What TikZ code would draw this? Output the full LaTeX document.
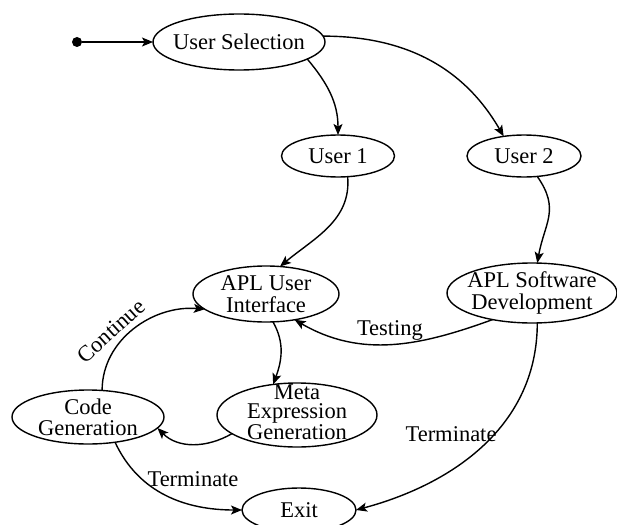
\documentclass[tikz,border=0pt]{standalone}
\usepackage{fontspec}
\setmainfont{Liberation Serif}
\usetikzlibrary{shapes.geometric,arrows.meta}
\begin{document}
\begin{tikzpicture}[x=1pt,y=-1pt,
  st/.style={draw, ellipse, line width=1.4pt, inner sep=0pt, outer sep=0pt},
  stxt/.style={font=\fontsize{22.5}{22}\selectfont, align=center, inner sep=0pt},
  arr/.style={line width=1.4pt, -{Stealth[length=11pt,width=9pt,inset=2.5pt]}},
  lbl/.style={font=\fontsize{22.5}{22}\selectfont, inner sep=0pt}]
\useasboundingbox (0,0) rectangle (617,524);
\node[circle, fill, inner sep=0pt, minimum size=10pt] (start) at (77,42) {};
\node[st, minimum width=172pt, minimum height=56pt, label={[stxt]center:User Selection}] (sel) at (239,42) {};
\node[st, minimum width=113pt, minimum height=42pt, label={[stxt]center:User 1}] (u1) at (338,156) {};
\node[st, minimum width=114pt, minimum height=42pt, label={[stxt]center:User 2}] (u2) at (524,156) {};
\node[st, minimum width=146pt, minimum height=56pt, label={[stxt]center:APL User\\Interface}] (ui) at (266,294) {};
\node[st, minimum width=170pt, minimum height=60pt, label={[stxt]center:APL Software\\Development}] (dev) at (532,293) {};
\node[st, minimum width=160pt, minimum height=64pt, label={[stxt, font=\fontsize{22.5}{19}\selectfont, yshift=2.5pt]center:Meta\\Expression\\Generation}] (meta) at (297,415) {};
\node[st, minimum width=152pt, minimum height=54pt, label={[stxt, font=\fontsize{22.5}{21}\selectfont]center:Code\\Generation}] (code) at (88,417) {};
\node[st, minimum width=114pt, minimum height=44pt, label={[stxt]center:Exit}] (exit) at (299,510) {};

\draw[arr] (start) -- (sel.west);
\draw[arr] (sel.-14) to[out=-50,in=90] (u1.north);
\draw[arr] (sel.4) to[out=0,in=120] (u2.136);
\draw[arr] (u1.-65) to[out=-85,in=40] (ui.63);
\draw[arr] (u2.-57) to[out=-55,in=80,looseness=1.2] (dev.80);
\draw[arr] (ui.-76) to[out=-60,in=70] (meta.128);
\draw[arr] (code.62) to[out=90,in=175] (ui.194);
\draw[arr] (meta.196) to[out=-150,in=-45] (code.-9);
\draw[arr] (code.-43) to[out=-65,in=180] (exit.west);
\draw[arr] (dev.214) to[out=200,in=-30] (ui.-42);
\draw[arr] (dev.-80) to[out=-90,in=15] (exit.east);

\node[lbl, rotate=42] (lcont) at (111,331) {Continue};
\node[lbl] (ltest) at (390,330) {Testing};
\node[lbl] (lterm1) at (193,479) {Terminate};
\node[lbl] (lterm2) at (451,434) {Terminate};
\end{tikzpicture}
\end{document}
